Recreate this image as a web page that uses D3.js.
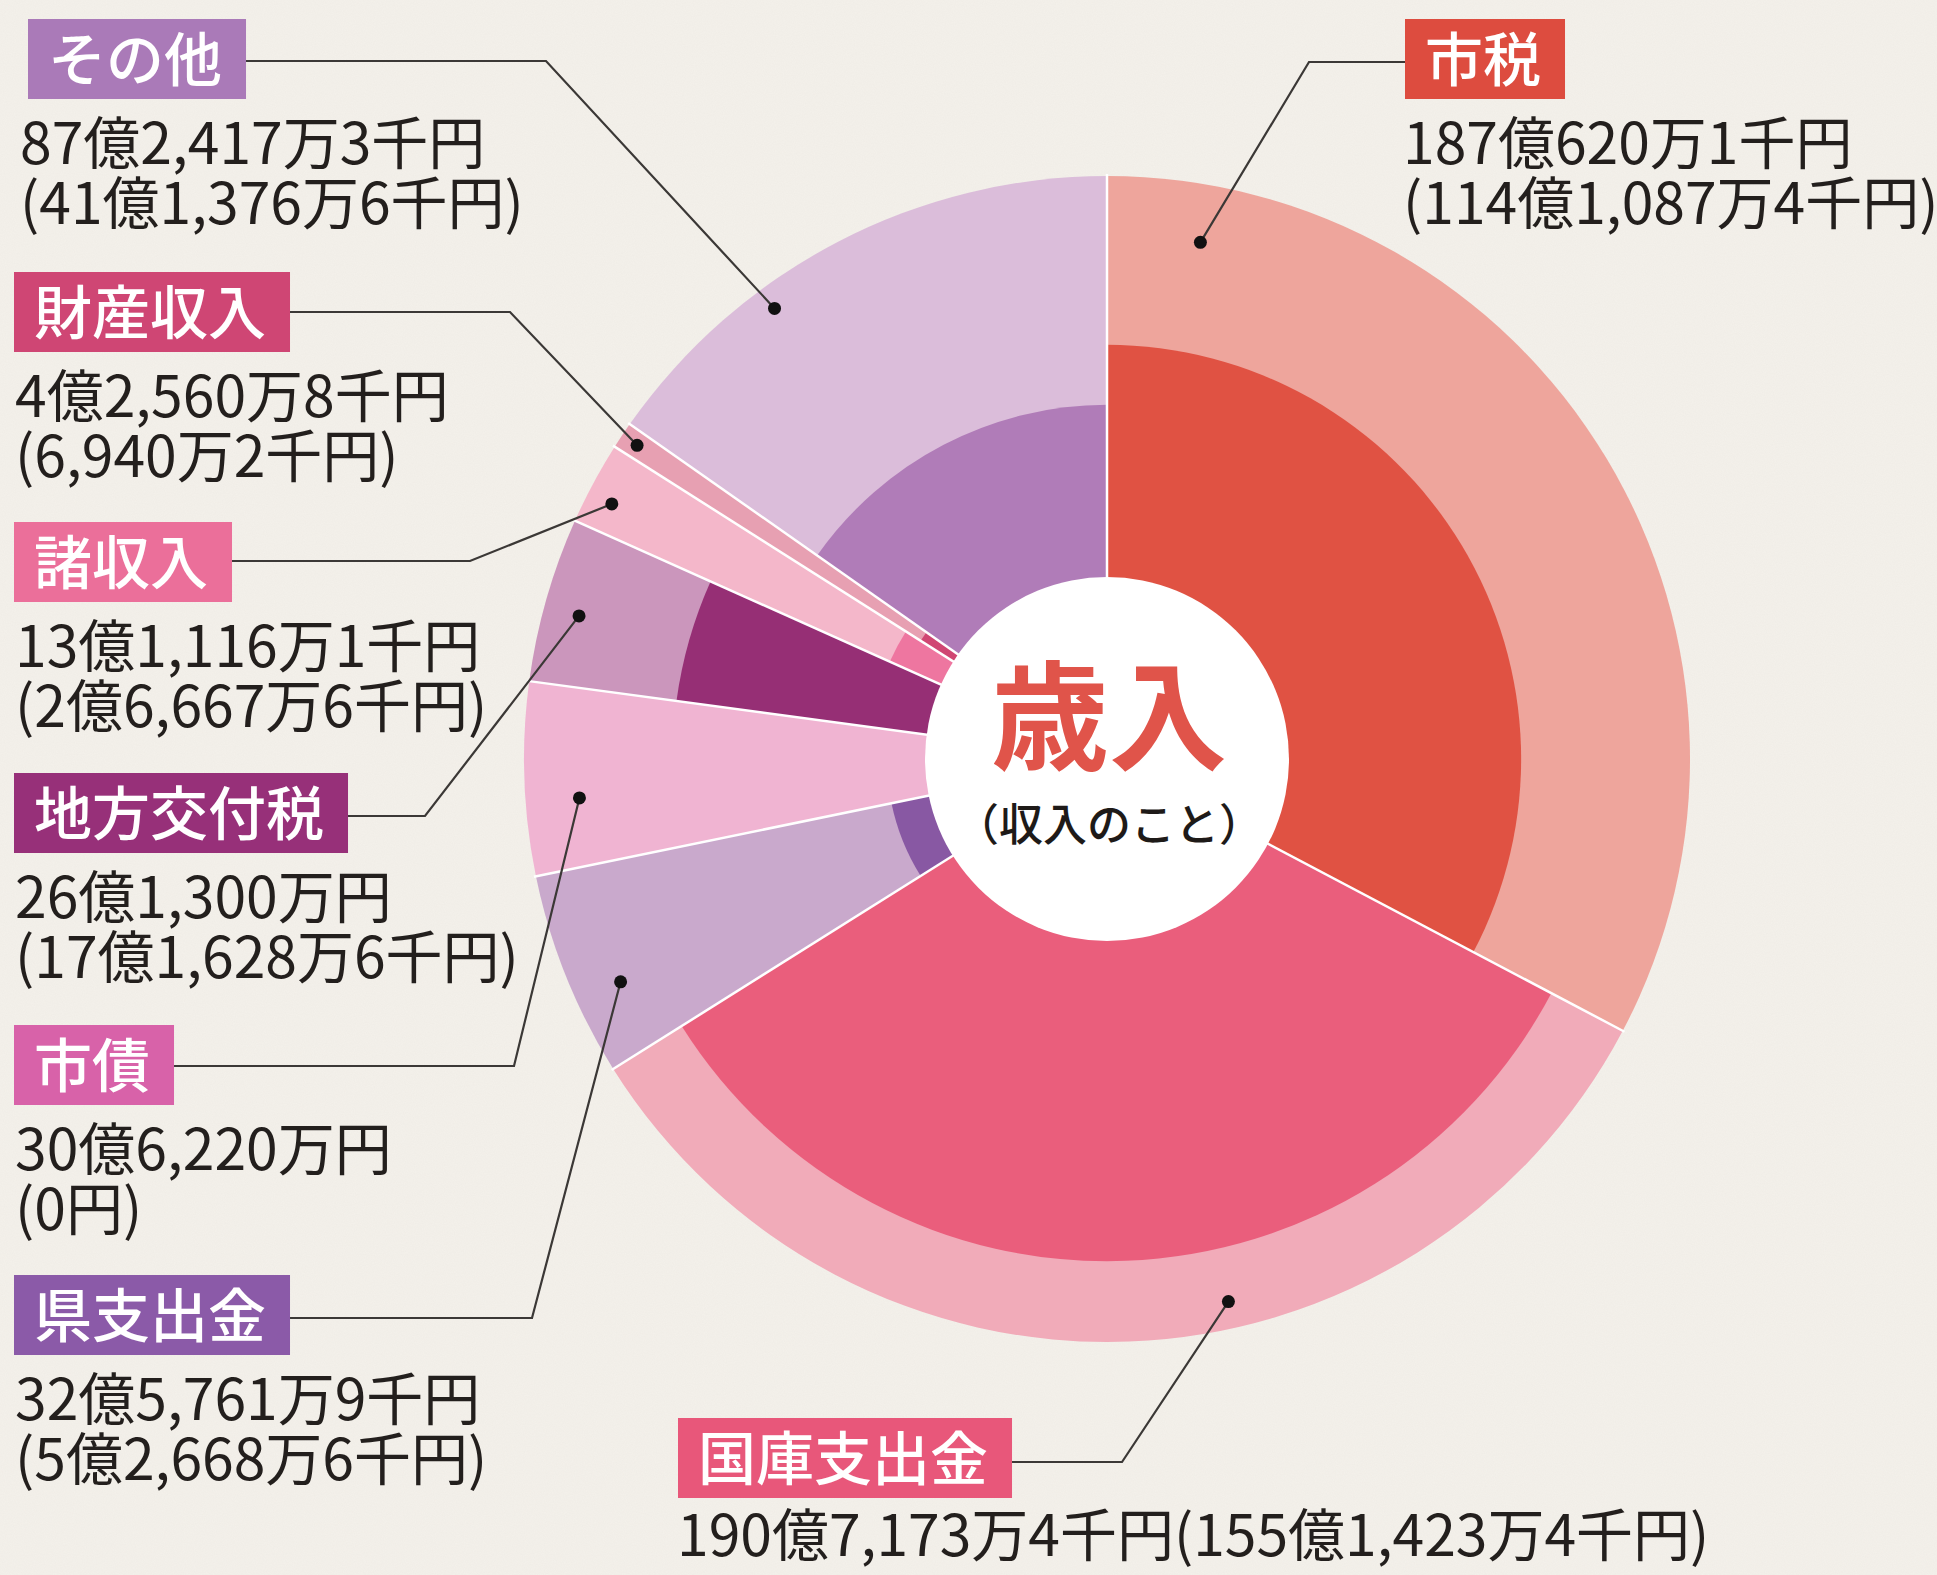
<!DOCTYPE html>
<html lang="ja">
<head>
<meta charset="utf-8">
<script src="https://cdn.jsdelivr.net/npm/d3@7"></script>
<style>
html,body{margin:0;padding:0;background:#f4f1eb;}
svg{display:block;}
text{font-family:"Noto Sans CJK JP","Noto Sans",sans-serif;}
</style>
</head>
<body>
<svg id="chart" width="1937" height="1575"></svg>
<script>
// ---- data (values in 千円) ----
const categories = ["市税","国庫支出金","県支出金","市債","地方交付税","諸収入","財産収入","その他"];
const totalValues = [18706201, 19071734, 3257619, 3062200, 2613000, 1311161, 425608, 8724173];
const generalValues = [11410874, 15514234, 526686, 0, 1716286, 266676, 69402, 4113766];
const totalLabels = ["187億620万1千円","190億7,173万4千円","32億5,761万9千円","30億6,220万円","26億1,300万円","13億1,116万1千円","4億2,560万8千円","87億2,417万3千円"];
const generalLabels = ["(114億1,087万4千円)","(155億1,423万4千円)","(5億2,668万6千円)","(0円)","(17億1,628万6千円)","(2億6,667万6千円)","(6,940万2千円)","(41億1,376万6千円)"];
const centerTitle = "歳入";
const centerSub = "（収入のこと）";

// ---- styles ----
const lightColors = ["#eea59c","#f1abb9","#c9a9cc","#f0b4d2","#cb96bc","#f4b7ca","#e7a0b2","#dbbdda"];
const darkColors  = ["#e05243","#ea5e7c","#8858a3","#d95ea8","#962f75","#ee76a0","#d04673","#b07cb8"];
const boxColors   = ["#dd4c3f","#e8577a","#8b5aa8","#d862a9","#973079","#eb6f9a","#cf4674","#aa7ab8"];

// annotation layout (label boxes, leader bends, dot position as fraction of slice angle + radius)
const labelLayout = [
  {bx:1405, by:19,  side:"right", bend:[1309,62],  dotF:0.087, dotR:525},
  {bx:678,  by:1418, side:"bottom", bend:[1122,1462], dotF:0.413, dotR:556},
  {bx:14,   by:1275, side:"left", bend:[532,1318], dotF:0.366, dotR:535},
  {bx:14,   by:1025, side:"left", bend:[514,1066], dotF:0.383, dotR:529},
  {bx:14,   by:773,  side:"left", bend:[425,816],  dotF:0.455, dotR:547},
  {bx:14,   by:522,  side:"left", bend:[470,561],  dotF:0.378, dotR:557},
  {bx:14,   by:272,  side:"left", bend:[510,312],  dotF:0.5,   dotR:565},
  {bx:28,   by:19,   side:"left", bend:[546,61],   dotF:0.337, dotR:560}
];

const cx = 1107, cy = 759, R = 583, hole = 182;
const svg = d3.select("#chart");

// paper background with subtle texture
const defs = svg.append("defs");
const f = defs.append("filter").attr("id","paper").attr("x",0).attr("y",0).attr("width","100%").attr("height","100%");
f.append("feTurbulence").attr("type","fractalNoise").attr("baseFrequency",0.9).attr("numOctaves",2).attr("seed",3).attr("result","n");
f.append("feColorMatrix").attr("in","n").attr("type","matrix")
  .attr("values","0 0 0 0 0.45  0 0 0 0 0.42  0 0 0 0 0.38  0 0 0 0.07 0");
svg.append("rect").attr("width",1937).attr("height",1575).attr("fill","#f4f1eb");
svg.append("rect").attr("width",1937).attr("height",1575).attr("filter","url(#paper)");

const g = svg.append("g").attr("transform",`translate(${cx},${cy})`);

const pie = d3.pie().sort(null).value(d => d.total).startAngle(0).endAngle(2*Math.PI);
const rows = categories.map((c,i) => ({name:c, total:totalValues[i], general:generalValues[i], i}));
const arcs = pie(rows);

const innerScale = d3.scaleLinear().domain([0,1]).range([150, R]);
const arcGen = d3.arc();

// light outer
g.selectAll("path.outer").data(arcs).join("path")
  .attr("class","outer")
  .attr("d", d => arcGen({innerRadius:0, outerRadius:R, startAngle:d.startAngle, endAngle:d.endAngle}))
  .attr("fill", d => lightColors[d.data.i]);

// dark inner
g.selectAll("path.inner").data(arcs.filter(d => d.data.general > 0)).join("path")
  .attr("class","inner")
  .attr("d", d => arcGen({innerRadius:0, outerRadius:innerScale(d.data.general/d.data.total), startAngle:d.startAngle, endAngle:d.endAngle}))
  .attr("fill", d => darkColors[d.data.i]);

// separators
g.selectAll("line.sep").data(arcs).join("line")
  .attr("class","sep")
  .attr("x1", 0).attr("y1", 0)
  .attr("x2", d => (R+2)*Math.sin(d.startAngle))
  .attr("y2", d => -(R+2)*Math.cos(d.startAngle))
  .attr("stroke","#fff").attr("stroke-width",2.5);

// hole
g.append("circle").attr("r",hole).attr("fill","#fff");
g.append("text").attr("x",2).attr("y",-50)
  .attr("text-anchor","middle").attr("dominant-baseline","central")
  .attr("font-size",118).attr("font-weight",700).attr("fill","#e0544a")
  .text(centerTitle);
g.append("text").attr("x",2).attr("y",63)
  .attr("text-anchor","middle").attr("dominant-baseline","central")
  .attr("font-size",44).attr("font-weight",500).attr("fill","#1e1a18")
  .text(centerSub);

// labels
const lab = svg.append("g");
arcs.forEach(d => {
  const i = d.data.i, L = labelLayout[i];
  const bh = 80;
  const t = lab.append("text").attr("x", L.bx + 20).attr("y", L.by + 62)
    .attr("font-size",58).attr("font-weight",500).attr("fill","#fff").text(d.data.name);
  const tw = t.node().getComputedTextLength();
  const bw = tw + 44;
  lab.insert("rect", () => t.node())
    .attr("x", L.bx).attr("y", L.by).attr("width", bw).attr("height", bh)
    .attr("fill", boxColors[i]);

  // leader
  const a = d.startAngle + L.dotF*(d.endAngle - d.startAngle);
  const dx = cx + L.dotR*Math.sin(a), dy = cy - L.dotR*Math.cos(a);
  const startX = L.side === "right" ? L.bx : L.bx + bw;
  const startY = L.bend[1];
  lab.append("path")
    .attr("d", d3.line()([[startX,startY], L.bend, [dx,dy]]))
    .attr("fill","none").attr("stroke","#3b3836").attr("stroke-width",2.2);
  lab.append("circle").attr("cx",dx).attr("cy",dy).attr("r",6.5).attr("fill","#111");

  // values
  if (L.side === "bottom") {
    lab.append("text").attr("x", L.bx - 1).attr("y", L.by + bh + 58)
      .attr("font-size",57).attr("fill","#231f1d")
      .text(totalLabels[i] + generalLabels[i]);
  } else {
    const vx = L.side === "right" ? L.bx - 2 : (i === 7 ? L.bx - 8 : L.bx + 1);
    const vt = lab.append("text").attr("x", vx).attr("y", L.by + bh + 65)
      .attr("font-size",57).attr("fill","#231f1d");
    vt.append("tspan").attr("x", vx).attr("dy", 0).text(totalLabels[i]);
    vt.append("tspan").attr("x", vx).attr("dy", 60).text(generalLabels[i]);
  }
});
</script>
</body>
</html>
